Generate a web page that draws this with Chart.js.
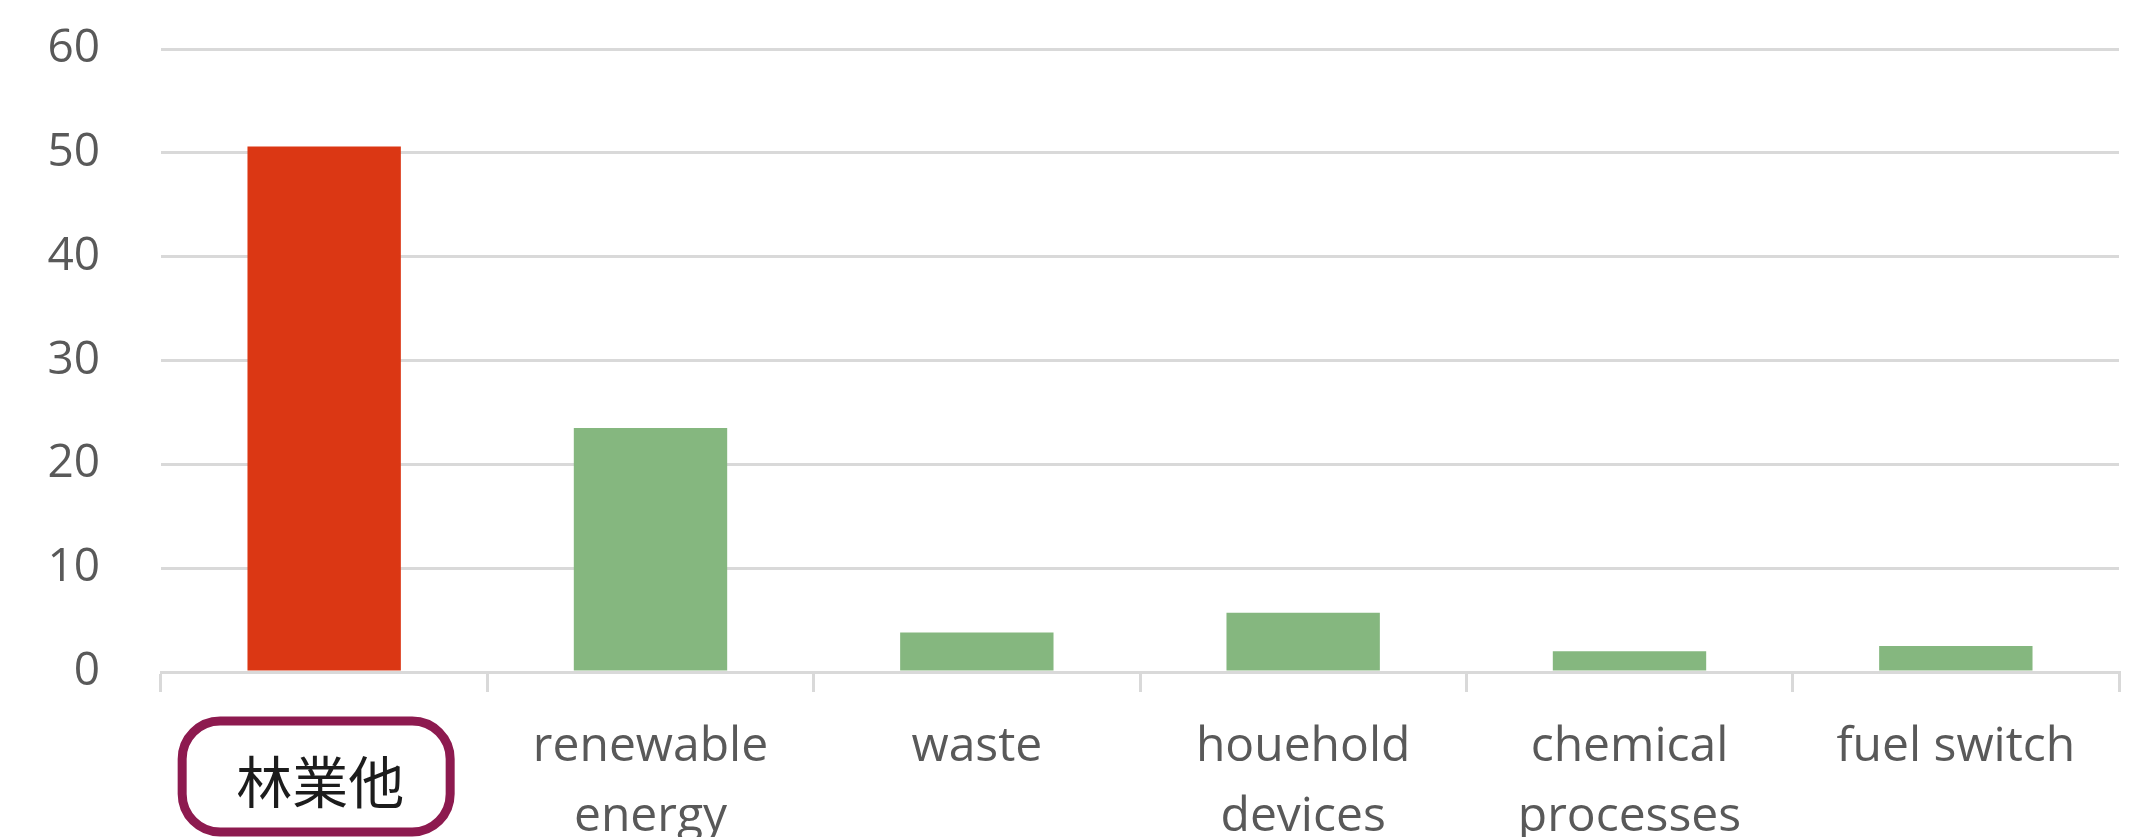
<!DOCTYPE html>
<html lang="ja">
<head>
    <meta charset="UTF-8">
    <title>林業他</title>
    <script src="https://cdn.jsdelivr.net/npm/chart.js"></script>
    <style>
        html, body {
            margin: 0;
            padding: 0;
            background: #ffffff;
        }
        .chart-wrap {
            position: relative;
            width: 2146px;
            height: 837px;
        }
    </style>
</head>
<body>
    <div class="chart-wrap">
        <canvas id="reductionChart"></canvas>
    </div>

    <script>
        // Categories and values
        const categories = [
            '林業他',
            ['renewable', 'energy'],
            'waste',
            ['houehold', 'devices'],
            ['chemical', 'processes'],
            'fuel switch'
        ];
        const values = [50.6, 23.5, 3.8, 5.7, 2.0, 2.5];
        const barColors = ['#db3714', '#85b77f', '#85b77f', '#85b77f', '#85b77f', '#85b77f'];
        const yTicks = [0, 10, 20, 30, 40, 50, 60];

        // Rounded frame around the first category label
        const highlightLabel = {
            id: 'highlightLabel',
            afterDraw(chart) {
                const ctx = chart.ctx;
                const xs = chart.scales.x;
                const cx = xs.getPixelForTick(0) - 8;
                const w = 268, h = 111, r = 38;
                const left = cx - w / 2;
                const top = xs.top + 49;
                ctx.save();
                ctx.beginPath();
                ctx.roundRect(left, top, w, h, r);
                ctx.lineWidth = 9;
                ctx.strokeStyle = '#8d1a4f';
                ctx.stroke();
                ctx.fillStyle = '#1c1c1c';
                ctx.font = '56px "Noto Sans CJK JP"';
                ctx.textAlign = 'center';
                ctx.textBaseline = 'middle';
                ctx.fillText(chart.data.labels[0], cx + 4, top + h / 2 + 5);
                ctx.restore();
            }
        };

        const ctx = document.getElementById('reductionChart').getContext('2d');
        const reductionChart = new Chart(ctx, {
            type: 'bar',
            data: {
                labels: categories,
                datasets: [{
                    data: values,
                    backgroundColor: barColors,
                    borderWidth: 0,
                    barPercentage: 0.47,
                    categoryPercentage: 1.0,
                }]
            },
            options: {
                responsive: true,
                maintainAspectRatio: false,
                animation: false,
                layout: {
                    padding: { top: 49, right: 27, bottom: 0, left: 0 }
                },
                plugins: {
                    legend: { display: false },
                    tooltip: { enabled: false },
                },
                scales: {
                    y: {
                        min: 0,
                        max: 60,
                        afterBuildTicks: (scale) => {
                            scale.ticks = yTicks.map(v => ({ value: v }));
                        },
                        afterFit: (scale) => {
                            scale.width = 161;
                            // the wide label gap shouldn't push the plot down
                            scale.paddingTop = 20;
                            scale.paddingBottom = 0;
                        },
                        grid: {
                            color: '#d9d9d9',
                            lineWidth: 3,
                            drawTicks: false,
                        },
                        border: { display: false },
                        ticks: {
                            padding: 61,
                            color: '#595959',
                            font: { family: 'Open Sans', size: 46 },
                        },
                    },
                    x: {
                        afterFit: (scale) => {
                            scale.height = 165;
                        },
                        grid: {
                            color: '#d9d9d9',
                            lineWidth: 3,
                            drawOnChartArea: false,
                            drawTicks: true,
                            tickLength: 20,
                        },
                        border: { display: true, color: '#d9d9d9', width: 3 },
                        ticks: {
                            padding: 21,
                            maxRotation: 0,
                            autoSkip: false,
                            color: (c) => c.index === 0 ? 'rgba(0,0,0,0)' : '#595959',
                            font: { family: 'Open Sans', size: 48, lineHeight: 1.45 },
                        },
                    },
                },
            },
            plugins: [highlightLabel]
        });
    </script>
</body>
</html>
